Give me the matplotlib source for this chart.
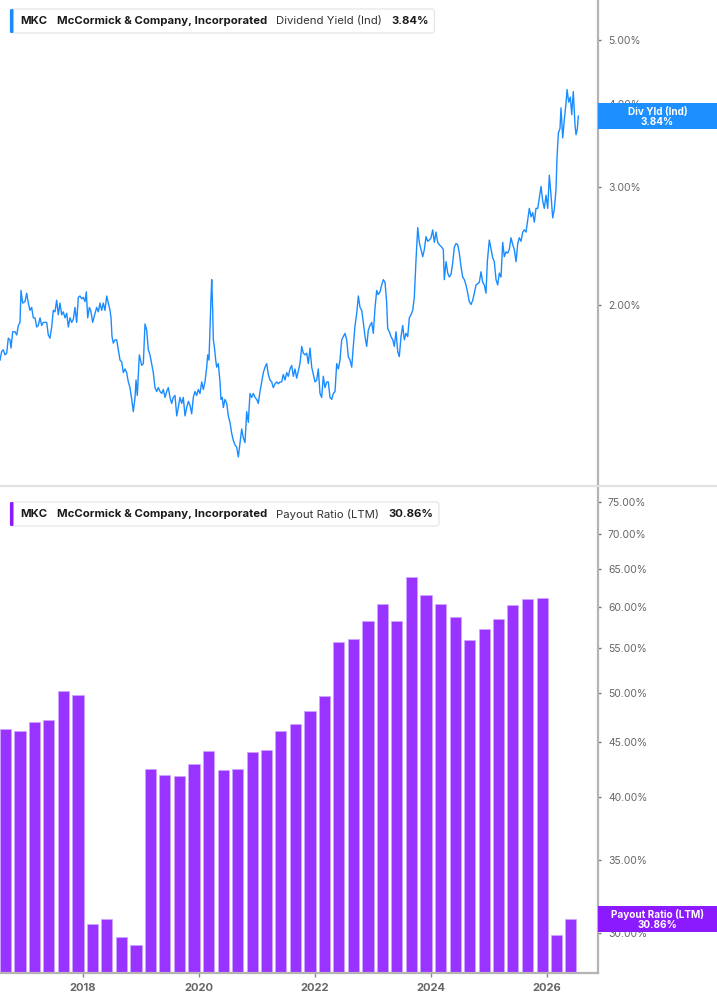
import matplotlib
matplotlib.use("Agg")
import matplotlib.pyplot as plt
from matplotlib.patches import FancyBboxPatch, Rectangle
from matplotlib.lines import Line2D
from matplotlib.ticker import FixedLocator, NullLocator
import pandas as pd

plt.rcParams['font.family'] = ['Inter', 'DejaVu Sans']

# ---------------- data ----------------
ticker = "MKC"
company = "McCormick & Company, Incorporated"
yield_label = "Dividend Yield (Ind)"
yield_tag = "Div Yld (Ind)"
payout_label = "Payout Ratio (LTM)"
yield_last = 3.84
payout_last = 30.86

yield_years = [
    2016.569, 2016.598, 2016.626, 2016.655, 2016.684, 2016.712, 2016.741, 2016.759, 2016.788, 2016.828,
    2016.857, 2016.885, 2016.914, 2016.931, 2016.960, 2017.000, 2017.029, 2017.057, 2017.086, 2017.115,
    2017.143, 2017.172, 2017.202, 2017.229, 2017.259, 2017.288, 2017.316, 2017.345, 2017.374, 2017.402,
    2017.431, 2017.460, 2017.488, 2017.517, 2017.546, 2017.574, 2017.603, 2017.633, 2017.660, 2017.690,
    2017.719, 2017.747, 2017.776, 2017.805, 2017.833, 2017.862, 2017.891, 2017.919, 2017.948, 2017.978,
    2018.005, 2018.035, 2018.057, 2018.081, 2018.109, 2018.133, 2018.167, 2018.207, 2018.236, 2018.264,
    2018.293, 2018.322, 2018.350, 2018.379, 2018.409, 2018.436, 2018.466, 2018.483, 2018.500, 2018.522,
    2018.552, 2018.581, 2018.609, 2018.638, 2018.667, 2018.695, 2018.724, 2018.753, 2018.781, 2018.810,
    2018.840, 2018.867, 2018.897, 2018.914, 2018.936, 2018.971, 2019.012, 2019.040, 2019.069, 2019.098,
    2019.126, 2019.155, 2019.184, 2019.212, 2019.241, 2019.271, 2019.298, 2019.328, 2019.357, 2019.385,
    2019.414, 2019.443, 2019.471, 2019.500, 2019.529, 2019.557, 2019.586, 2019.616, 2019.643, 2019.672,
    2019.702, 2019.729, 2019.759, 2019.788, 2019.816, 2019.845, 2019.874, 2019.902, 2019.931, 2019.960,
    2019.988, 2020.017, 2020.047, 2020.074, 2020.103, 2020.133, 2020.150, 2020.172, 2020.190, 2020.207,
    2020.219, 2020.236, 2020.247, 2020.264, 2020.288, 2020.305, 2020.333, 2020.362, 2020.379, 2020.402,
    2020.419, 2020.448, 2020.478, 2020.505, 2020.534, 2020.564, 2020.591, 2020.621, 2020.650, 2020.678,
    2020.707, 2020.736, 2020.764, 2020.793, 2020.822, 2020.850, 2020.879, 2020.909, 2020.936, 2020.966,
    2020.995, 2021.022, 2021.052, 2021.081, 2021.109, 2021.138, 2021.167, 2021.195, 2021.224, 2021.253,
    2021.281, 2021.310, 2021.340, 2021.367, 2021.397, 2021.426, 2021.453, 2021.483, 2021.512, 2021.540,
    2021.569, 2021.598, 2021.626, 2021.655, 2021.684, 2021.712, 2021.741, 2021.771, 2021.798, 2021.828,
    2021.857, 2021.885, 2021.914, 2021.943, 2021.971, 2022.000, 2022.029, 2022.057, 2022.086, 2022.115,
    2022.143, 2022.172, 2022.202, 2022.229, 2022.259, 2022.288, 2022.316, 2022.345, 2022.374, 2022.402,
    2022.431, 2022.460, 2022.488, 2022.517, 2022.546, 2022.574, 2022.603, 2022.633, 2022.660, 2022.690,
    2022.719, 2022.747, 2022.776, 2022.805, 2022.833, 2022.862, 2022.891, 2022.919, 2022.948, 2022.978,
    2023.005, 2023.035, 2023.064, 2023.091, 2023.121, 2023.150, 2023.178, 2023.207, 2023.236, 2023.253,
    2023.281, 2023.310, 2023.340, 2023.367, 2023.397, 2023.426, 2023.453, 2023.483, 2023.512, 2023.540,
    2023.569, 2023.598, 2023.626, 2023.655, 2023.684, 2023.712, 2023.741, 2023.771, 2023.798, 2023.828,
    2023.857, 2023.885, 2023.914, 2023.943, 2023.971, 2024.000, 2024.029, 2024.057, 2024.086, 2024.115,
    2024.143, 2024.184, 2024.212, 2024.229, 2024.259, 2024.288, 2024.316, 2024.345, 2024.374, 2024.402,
    2024.431, 2024.460, 2024.488, 2024.517, 2024.546, 2024.574, 2024.603, 2024.633, 2024.660, 2024.690,
    2024.719, 2024.747, 2024.776, 2024.805, 2024.833, 2024.862, 2024.891, 2024.919, 2024.948, 2024.971,
    2025.005, 2025.035, 2025.064, 2025.091, 2025.121, 2025.150, 2025.178, 2025.207, 2025.236, 2025.264,
    2025.293, 2025.322, 2025.350, 2025.379, 2025.409, 2025.436, 2025.466, 2025.495, 2025.522, 2025.552,
    2025.581, 2025.609, 2025.638, 2025.667, 2025.695, 2025.724, 2025.753, 2025.781, 2025.810, 2025.840,
    2025.867, 2025.897, 2025.926, 2025.953, 2025.983, 2026.012, 2026.040, 2026.069, 2026.098, 2026.126,
    2026.155, 2026.172, 2026.195, 2026.224, 2026.241, 2026.271, 2026.298, 2026.328, 2026.345, 2026.374,
    2026.402, 2026.426, 2026.453, 2026.483, 2026.500, 2026.522, 2026.540,
]

yield_values = [
    1.65, 1.70, 1.71, 1.68, 1.69, 1.78, 1.77, 1.72, 1.82, 1.82,
    1.80, 1.86, 1.88, 2.10, 2.01, 2.02, 2.08, 2.01, 1.96, 1.98,
    1.91, 1.91, 1.85, 1.86, 1.91, 1.86, 1.88, 1.88, 1.88, 1.80,
    1.78, 1.85, 1.96, 1.95, 2.03, 1.93, 2.01, 1.93, 1.95, 1.91,
    1.94, 1.85, 1.91, 1.88, 1.90, 1.98, 1.88, 2.05, 2.06, 2.04,
    2.05, 2.02, 2.09, 1.91, 1.98, 1.96, 1.88, 1.94, 1.98, 1.95,
    2.01, 1.96, 2.01, 1.96, 2.06, 2.01, 1.96, 1.91, 1.79, 1.75,
    1.77, 1.77, 1.71, 1.65, 1.64, 1.58, 1.60, 1.58, 1.53, 1.50,
    1.44, 1.38, 1.45, 1.54, 1.46, 1.68, 1.62, 1.63, 1.87, 1.83,
    1.71, 1.68, 1.63, 1.58, 1.50, 1.48, 1.50, 1.48, 1.47, 1.49,
    1.45, 1.48, 1.50, 1.45, 1.42, 1.45, 1.46, 1.36, 1.40, 1.45,
    1.42, 1.45, 1.36, 1.40, 1.43, 1.41, 1.37, 1.45, 1.48, 1.46,
    1.49, 1.47, 1.53, 1.49, 1.53, 1.61, 1.68, 1.65, 1.85, 2.05,
    2.18, 1.96, 1.77, 1.73, 1.65, 1.61, 1.63, 1.53, 1.44, 1.45,
    1.40, 1.44, 1.42, 1.36, 1.33, 1.28, 1.25, 1.23, 1.22, 1.18,
    1.24, 1.30, 1.26, 1.24, 1.38, 1.33, 1.47, 1.45, 1.47, 1.45,
    1.44, 1.42, 1.48, 1.53, 1.58, 1.61, 1.63, 1.57, 1.54, 1.53,
    1.50, 1.52, 1.53, 1.52, 1.53, 1.53, 1.57, 1.54, 1.58, 1.56,
    1.60, 1.62, 1.56, 1.60, 1.55, 1.59, 1.63, 1.73, 1.69, 1.68,
    1.69, 1.63, 1.72, 1.61, 1.57, 1.53, 1.54, 1.60, 1.47, 1.45,
    1.56, 1.50, 1.53, 1.53, 1.45, 1.44, 1.47, 1.48, 1.63, 1.60,
    1.65, 1.77, 1.79, 1.81, 1.77, 1.67, 1.65, 1.61, 1.73, 1.86,
    1.94, 2.06, 1.98, 1.96, 1.88, 1.79, 1.73, 1.83, 1.86, 1.88,
    1.81, 1.98, 2.10, 2.07, 2.09, 2.14, 2.18, 2.16, 2.01, 1.84,
    1.82, 1.79, 1.77, 1.73, 1.82, 1.70, 1.67, 1.79, 1.86, 1.77,
    1.81, 1.79, 1.91, 1.93, 1.96, 2.05, 2.33, 2.61, 2.48, 2.42,
    2.36, 2.42, 2.53, 2.49, 2.50, 2.52, 2.59, 2.48, 2.57, 2.48,
    2.46, 2.44, 2.42, 2.18, 2.32, 2.23, 2.20, 2.22, 2.31, 2.44,
    2.47, 2.46, 2.39, 2.28, 2.20, 2.18, 2.14, 2.08, 2.02, 2.00,
    2.03, 2.08, 2.14, 2.15, 2.16, 2.24, 2.16, 2.14, 2.08, 2.32,
    2.50, 2.42, 2.35, 2.32, 2.18, 2.14, 2.23, 2.20, 2.48, 2.36,
    2.40, 2.39, 2.42, 2.52, 2.46, 2.42, 2.32, 2.47, 2.52, 2.49,
    2.57, 2.59, 2.57, 2.68, 2.79, 2.71, 2.75, 2.66, 2.79, 2.79,
    2.89, 3.01, 2.86, 2.79, 2.92, 2.79, 3.13, 2.92, 2.70, 2.78,
    2.98, 3.32, 3.62, 3.68, 3.95, 3.56, 3.79, 4.02, 4.21, 4.03,
    4.10, 3.86, 4.18, 3.72, 3.60, 3.67, 3.84,
]

payout_dates = [
    "2016-08-31", "2016-11-30", "2017-02-28", "2017-05-31", "2017-08-31", "2017-11-30",
    "2018-02-28", "2018-05-31", "2018-08-31", "2018-11-30", "2019-02-28", "2019-05-31",
    "2019-08-31", "2019-11-30", "2020-02-29", "2020-05-31", "2020-08-31", "2020-11-30",
    "2021-02-28", "2021-05-31", "2021-08-31", "2021-11-30", "2022-02-28", "2022-05-31",
    "2022-08-31", "2022-11-30", "2023-02-28", "2023-05-31", "2023-08-31", "2023-11-30",
    "2024-02-29", "2024-05-31", "2024-08-31", "2024-11-30", "2025-02-28", "2025-05-31",
    "2025-08-31", "2025-11-30", "2026-02-28", "2026-05-31",
]
payout_values = [
    46.25, 46.06, 46.94, 47.14, 50.15, 49.73,
    30.56, 30.88, 29.72, 29.22, 42.49, 41.95,
    41.86, 42.94, 44.15, 42.40, 42.49, 44.05,
    44.24, 46.06, 46.74, 48.05, 49.62, 55.65,
    56.00, 58.18, 60.30, 58.18, 63.90, 61.50,
    60.30, 58.70, 55.90, 57.20, 58.45, 60.20,
    61.00, 61.10, 29.85, 30.86,
]

yield_ticks = [2, 3, 4, 5]
payout_ticks = [30, 35, 40, 45, 50, 55, 60, 65, 70, 75]
year_ticks = [2018, 2020, 2022, 2024, 2026]


def to_year(s):
    ts = pd.Timestamp(s)
    days = 366 if ts.is_leap_year else 365
    return ts.year + (ts.dayofyear - 0.5) / days


payout_years = [to_year(d) for d in payout_dates]

# ---------------- style ----------------
BLUE = '#1a8cff'
PURPLE = '#9933ff'
PURPLE_TAG = '#8c1aff'
SPINE = '#b4b4b4'
TICKLBL = '#666666'

W, H = 717, 1005
fig = plt.figure(figsize=(W / 100, H / 100), dpi=100)
fig.patch.set_facecolor('white')

XMIN, XMAX = 2016.569, 2026.879

ax1 = fig.add_axes([0, 1 - 486 / H, 598 / W, 486 / H])
ax2 = fig.add_axes([0, 1 - 973 / H, 598 / W, (973 - 488) / H])

# --- top: dividend yield ---
ax1.plot(yield_years, yield_values, color=BLUE, lw=1.0, solid_joinstyle='round')
ax1.set_yscale('log')
ax1.set_xlim(XMIN, XMAX)
ax1.set_ylim(1.067, 5.74)
ax1.yaxis.set_major_locator(FixedLocator(yield_ticks))
ax1.yaxis.set_minor_locator(NullLocator())
ax1.set_yticklabels([f"{v:.2f}%" for v in yield_ticks])

# --- bottom: payout ratio ---
ax2.set_yscale('log')
ax2.bar(payout_years, payout_values, width=0.19, color=PURPLE,
        edgecolor='#cfa6ff', linewidth=0.5)
ax2.set_xlim(XMIN, XMAX)
ax2.set_ylim(27.54, 77.25)
ax2.yaxis.set_major_locator(FixedLocator(payout_ticks))
ax2.yaxis.set_minor_locator(NullLocator())
ax2.set_yticklabels([f"{v:.2f}%" for v in payout_ticks])
ax2.xaxis.set_major_locator(FixedLocator(year_ticks))
ax2.xaxis.set_minor_locator(NullLocator())
ax2.set_xticklabels([str(y) for y in year_ticks], fontweight='bold')

for ax in (ax1, ax2):
    ax.set_facecolor('none')
    for side in ('left', 'top', 'bottom'):
        ax.spines[side].set_visible(False)
    ax.spines['right'].set_color(SPINE)
    ax.spines['right'].set_linewidth(1.6)
    ax.yaxis.tick_right()
    ax.tick_params(axis='y', which='major', direction='out', length=2.2, width=1,
                   color='#777777', labelsize=7.5, labelcolor=TICKLBL, pad=5,
                   right=True, left=False, labelright=True, labelleft=False)

ax1.tick_params(axis='x', which='both', bottom=False, labelbottom=False)
ax2.spines['bottom'].set_visible(True)
ax2.spines['bottom'].set_color(SPINE)
ax2.spines['bottom'].set_linewidth(1.6)
ax2.tick_params(axis='x', which='major', direction='out', length=3, width=1,
                color='#888888', labelsize=8, labelcolor=TICKLBL, pad=4)

# separator between panels
fig.add_artist(Line2D([0, 1], [1 - 486.5 / H] * 2, transform=fig.transFigure,
                      color='#e2e2e2', lw=1.5, zorder=3))

# ---------------- legends ----------------
renderer = fig.canvas.get_renderer()


def add_legend(top_px, accent, parts):
    h = 24
    yc = (H - top_px - h / 2) / 100
    x = 0.207
    gap = 0.09
    for txt, weight, col in parts:
        t = fig.text(x, yc, txt, transform=fig.dpi_scale_trans, fontsize=8.2,
                     fontweight=weight, color=col, va='center', ha='left', zorder=6)
        x += t.get_window_extent(renderer).width / 100 + gap
    right = x - gap + 0.06
    box = FancyBboxPatch((0.10, (H - top_px - h) / 100), right - 0.10, h / 100,
                         boxstyle='round,pad=0,rounding_size=0.03',
                         transform=fig.dpi_scale_trans, facecolor='white',
                         edgecolor='#e4e4e4', lw=0.8, zorder=4)
    fig.add_artist(box)
    acc = FancyBboxPatch((0.10, (H - top_px - h) / 100), 0.035, h / 100,
                         boxstyle='round,pad=0,rounding_size=0.012',
                         transform=fig.dpi_scale_trans, facecolor=accent,
                         edgecolor='none', zorder=5)
    fig.add_artist(acc)


add_legend(9, BLUE, [(ticker, 'bold', '#1a1a1a'), (company, 'bold', '#1a1a1a'),
                     (yield_label, 'normal', '#333333'), (f"{yield_last:.2f}%", 'bold', '#1a1a1a')])
add_legend(502, PURPLE_TAG, [(ticker, 'bold', '#1a1a1a'), (company, 'bold', '#1a1a1a'),
                             (payout_label, 'normal', '#333333'), (f"{payout_last:.2f}%", 'bold', '#1a1a1a')])


# ---------------- value tags on the right axis ----------------
def add_tag(ax, value, line1, line2, color):
    y_disp = ax.transData.transform((XMIN, value))[1]
    rect = Rectangle((5.98, (y_disp - 13) / 100), 1.19, 0.26,
                     transform=fig.dpi_scale_trans, facecolor=color,
                     edgecolor='none', zorder=7)
    fig.add_artist(rect)
    fig.text(6.575, (y_disp + 4.5) / 100, line1, transform=fig.dpi_scale_trans,
             ha='center', va='center', color='white', fontsize=7.2,
             fontweight='bold', zorder=8)
    fig.text(6.575, (y_disp - 5.5) / 100, line2, transform=fig.dpi_scale_trans,
             ha='center', va='center', color='white', fontsize=7.2,
             fontweight='bold', zorder=8)


add_tag(ax1, yield_last, yield_tag, f"{yield_last:.2f}%", '#1e8fff')
add_tag(ax2, payout_last, payout_label, f"{payout_last:.2f}%", PURPLE_TAG)

fig.savefig('out.png', dpi=100, facecolor='white')
